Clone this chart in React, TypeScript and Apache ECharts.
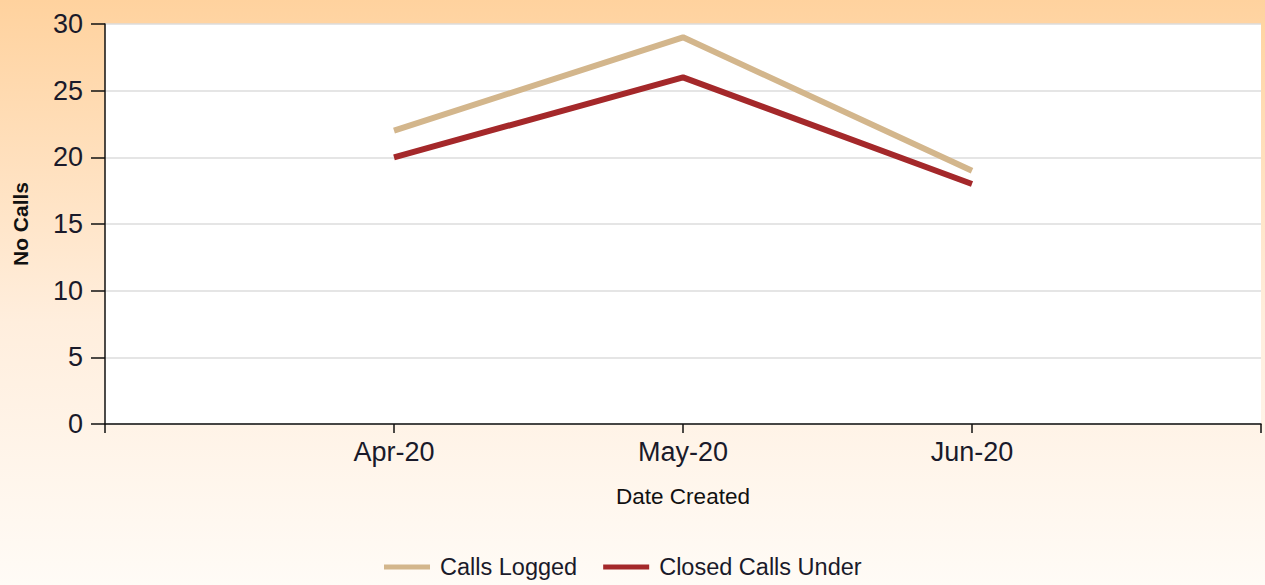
import React, { useEffect, useRef } from "react";
import * as echarts from "echarts";

const categories = ["", "Apr-20", "May-20", "Jun-20", ""];
const callsLogged = [null, 22, 29, 19, null];
const closedCalls = [null, 20, 26, 18, null];
const seriesNames = ["Calls Logged", "Closed Calls Under"];
const yTicks = { min: 0, max: 30, interval: 5 };

export default function App() {
  const ref = useRef<HTMLDivElement>(null);
  useEffect(() => {
    if (!ref.current) return;
    const chart = echarts.init(ref.current, null, { renderer: "svg" });
    const font = "'Liberation Sans', Arial, sans-serif";
    chart.setOption({
      animation: false,
      backgroundColor: {
        type: "linear",
        x: 0, y: 0, x2: 0, y2: 1,
        colorStops: [
          { offset: 0, color: "#FFD29E" },
          { offset: 0.55, color: "#FFEEDD" },
          { offset: 1, color: "#FFFBF6" },
        ],
      },
      grid: {
        left: 105,
        right: 4,
        top: 24,
        bottom: 161,
        show: true,
        backgroundColor: "#ffffff",
        borderWidth: 0,
      },
      legend: {
        bottom: 1,
        left: 379,
        itemWidth: 46,
        itemHeight: 5,
        itemGap: 26,
        icon: "rect",
        textStyle: { fontFamily: font, fontSize: 23.5, color: "#1a1a2a", padding: [0, 0, 0, 5] },
        data: seriesNames,
      },
      xAxis: {
        type: "category",
        data: categories,
        boundaryGap: false,
        name: "Date Created",
        nameLocation: "middle",
        nameGap: 61,
        nameTextStyle: { fontFamily: font, fontSize: 22.5, color: "#111" },
        axisLine: { lineStyle: { color: "#111", width: 1.5 } },
        axisTick: { show: true, length: 9, lineStyle: { color: "#111", width: 1.5 }, interval: 0 },
        axisLabel: { fontFamily: font, fontSize: 27, color: "#1a1a2a", margin: 14, interval: 0 },
        splitLine: { show: false },
      },
      yAxis: {
        type: "value",
        min: yTicks.min,
        max: yTicks.max,
        interval: yTicks.interval,
        name: "No Calls",
        nameLocation: "middle",
        nameGap: 74,
        nameRotate: 90,
        nameTextStyle: { fontFamily: font, fontSize: 21, fontWeight: "bold", color: "#111" },
        axisLine: { show: true, lineStyle: { color: "#111", width: 1.5 } },
        axisTick: { show: true, length: 14, lineStyle: { color: "#111", width: 1.5 } },
        axisLabel: { fontFamily: font, fontSize: 27, color: "#1a1a2a", margin: 22 },
        splitLine: { show: true, lineStyle: { color: "#dddddd", width: 1.5 } },
      },
      series: [
        {
          name: seriesNames[0],
          type: "line",
          data: callsLogged,
          symbol: "none",
          color: "#D3B68C",
          lineStyle: { width: 6, color: "#D3B68C" },
        },
        {
          name: seriesNames[1],
          type: "line",
          data: closedCalls,
          symbol: "none",
          color: "#A4282A",
          lineStyle: { width: 6, color: "#A4282A" },
        },
      ],
    });
    return () => chart.dispose();
  }, []);
  return (
    <div
      ref={ref}
      style={{ position: "fixed", left: 0, top: 0, width: 1265, height: 585 }}
    />
  );
}
